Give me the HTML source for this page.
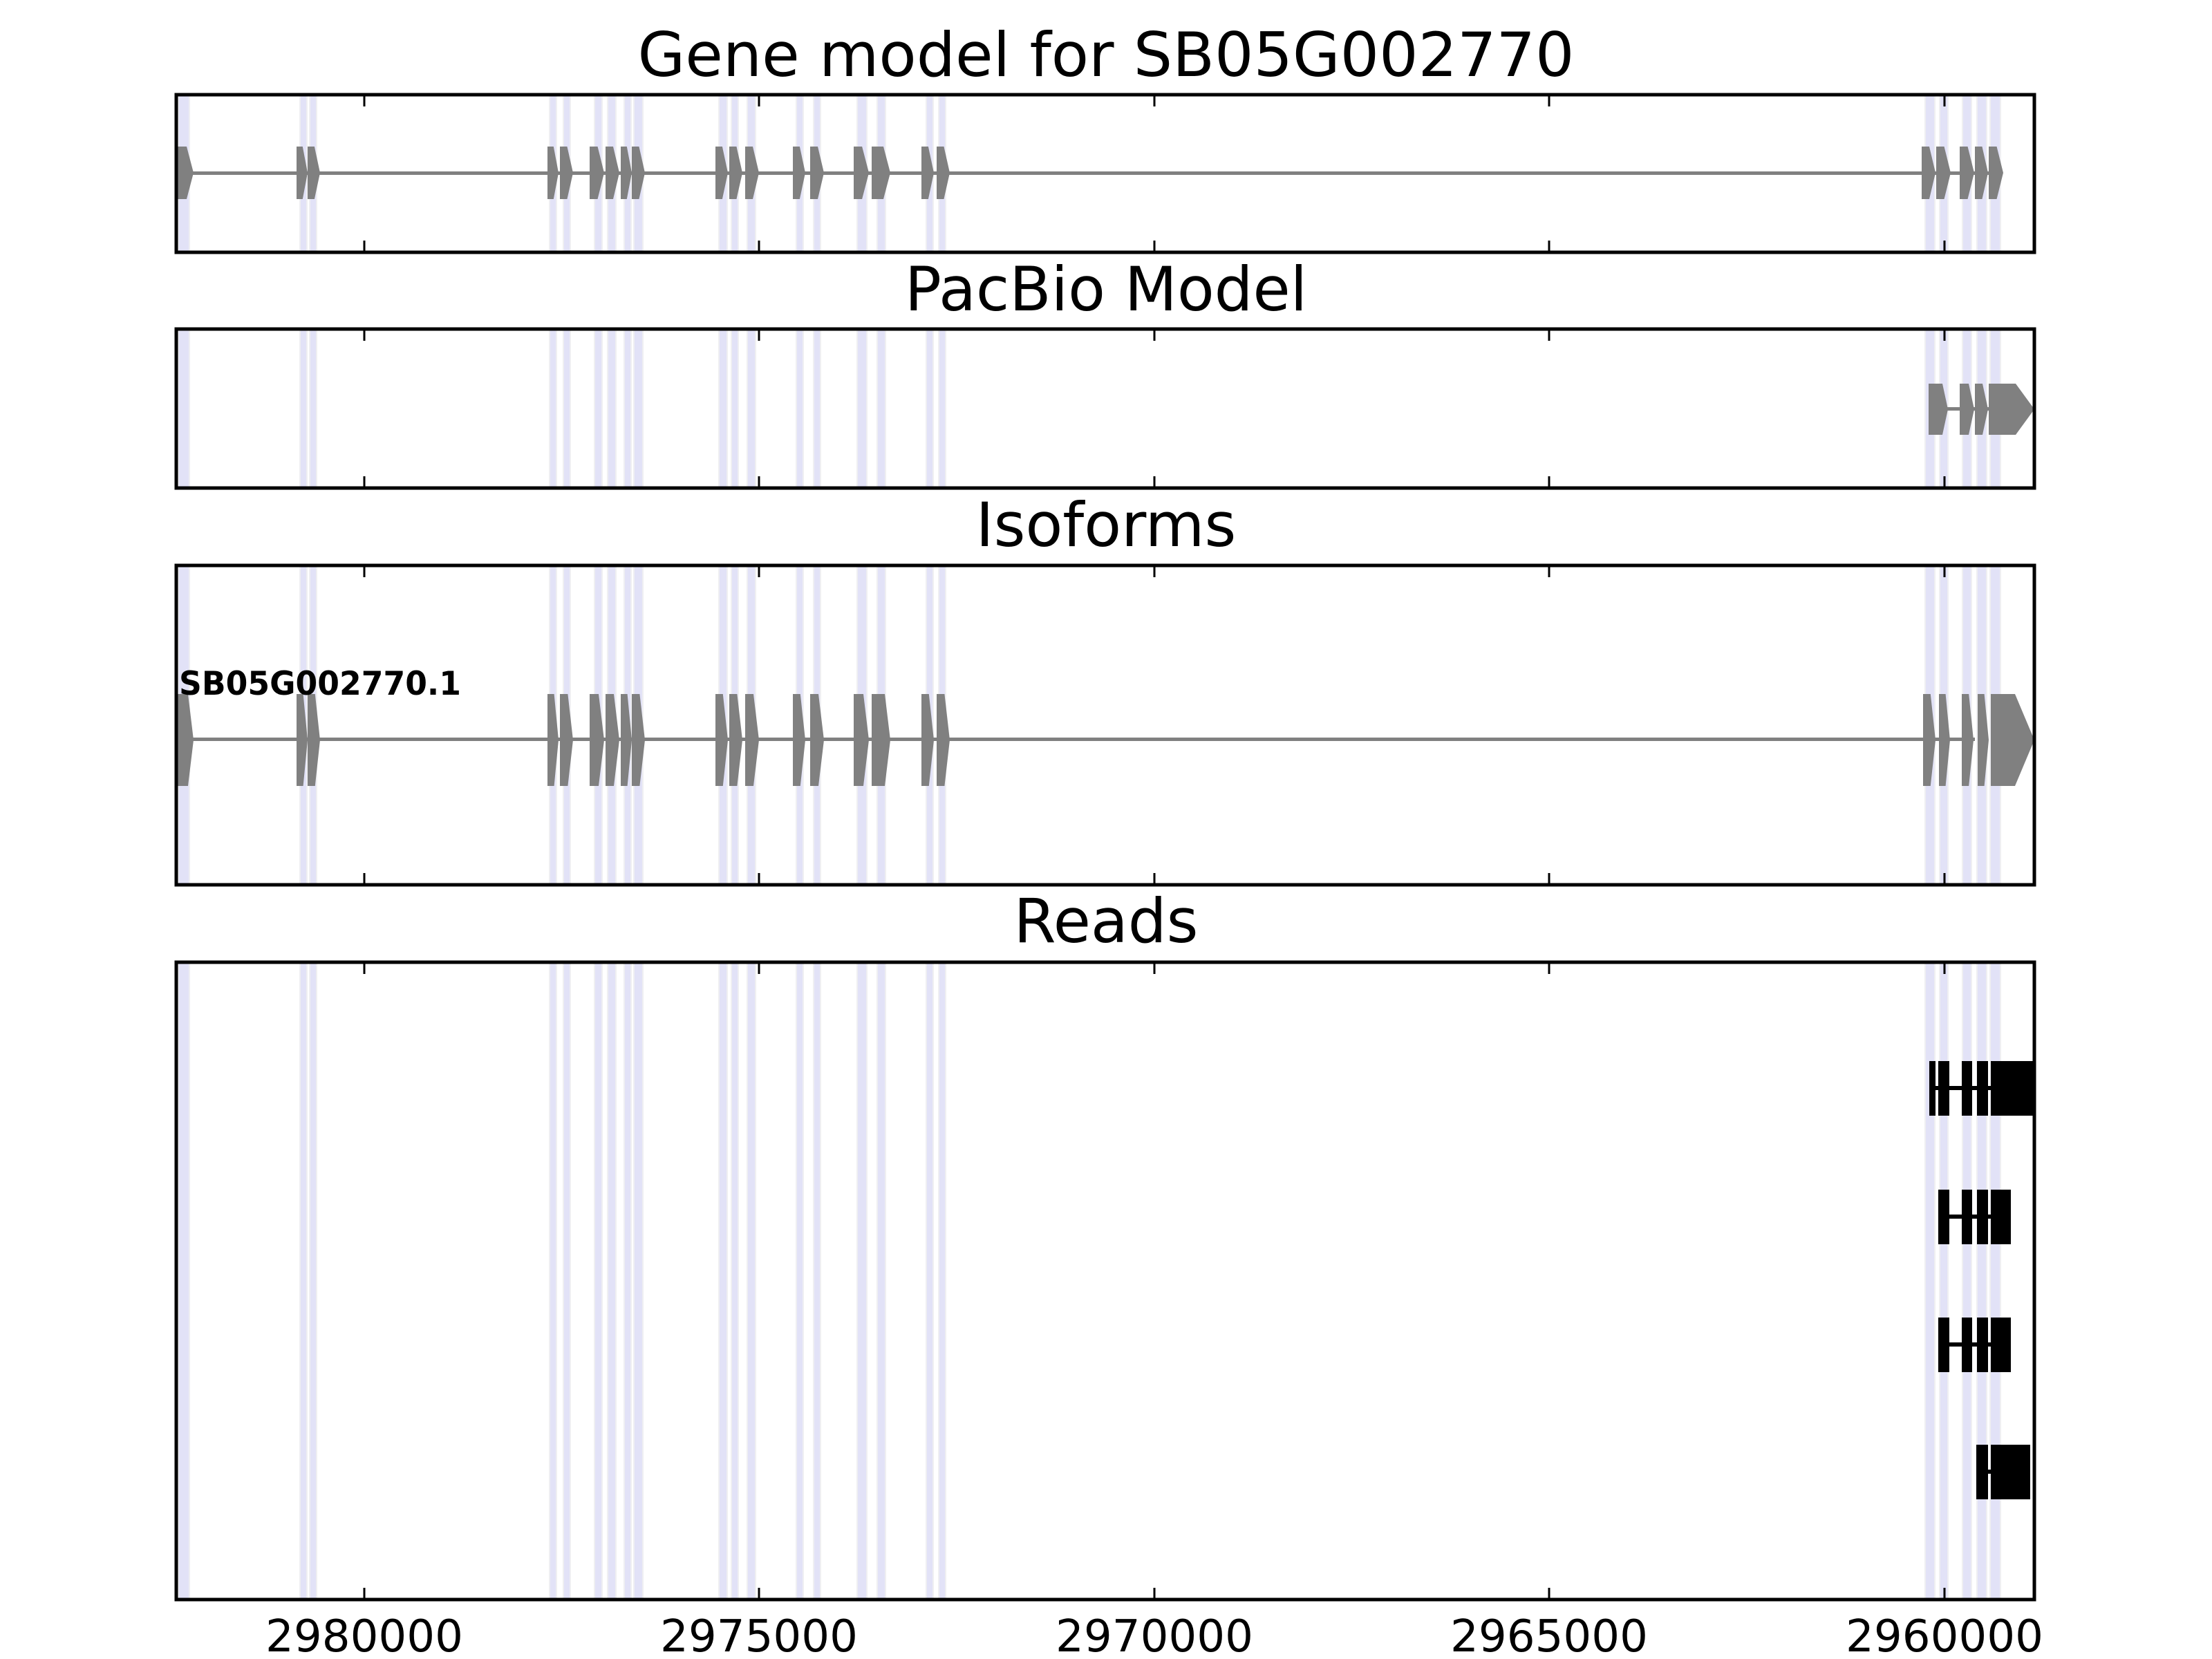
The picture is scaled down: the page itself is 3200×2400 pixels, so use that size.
<!DOCTYPE html>
<html><head><meta charset="utf-8"><style>html,body{margin:0;padding:0;background:#fff}svg{display:block}</style></head>
<body>
<svg id="s" width="3200" height="2400" xmlns="http://www.w3.org/2000/svg" font-family="DejaVu Sans, Liberation Sans, sans-serif">
<rect width="3200" height="2400" fill="#fff"/>
<text x="1600" y="110" font-size="88" text-anchor="middle" textLength="1355" lengthAdjust="spacingAndGlyphs">Gene model for SB05G002770</text>
<text x="1600" y="449" font-size="88" text-anchor="middle">PacBio Model</text>
<text x="1600" y="790" font-size="88" text-anchor="middle">Isoforms</text>
<text x="1600" y="1363" font-size="88" text-anchor="middle">Reads</text>
<g id="g"></g>
<text x="259" y="1005" font-size="47" font-weight="bold" textLength="408" lengthAdjust="spacingAndGlyphs">SB05G002770.1</text>
<g font-size="64" text-anchor="middle">
<text x="527" y="2389" textLength="286" lengthAdjust="spacingAndGlyphs">2980000</text>
<text x="1098" y="2389" textLength="286" lengthAdjust="spacingAndGlyphs">2975000</text>
<text x="1670" y="2389" textLength="286" lengthAdjust="spacingAndGlyphs">2970000</text>
<text x="2241" y="2389" textLength="286" lengthAdjust="spacingAndGlyphs">2965000</text>
<text x="2813" y="2389" textLength="286" lengthAdjust="spacingAndGlyphs">2960000</text>
</g>
</svg>
<script>
var g=document.getElementById('g'),h='';
var L=255,R=2943;
var panels=[[137,365],[476,706],[818,1280],[1392,2314]];
var bands=[[259,273],[435,443],[449,457],[796,804],[816,824],[861,870],[880,890],[904,912],[918,929],[1041,1051],[1059,1067],[1082,1092],[1153,1161],[1178,1186],[1241,1253],[1270,1280],[1341,1349],[1359,1367],[2786,2798],[2807,2817],[2840,2851],[2861,2873],[2880,2893]];
var ticks=[527,1098,1670,2241,2813];
function ex(x0,x1,t,b,tw,col){var m=(t+b)/2;var d=tw||Math.min(10,(x1-x0)*0.45);
return '<polygon points="'+x0+','+t+' '+(x1-d)+','+t+' '+x1+','+m+' '+(x1-d)+','+b+' '+x0+','+b+'" fill="'+(col||'#808080')+'"/>';}
panels.forEach(function(p){
 bands.forEach(function(b){h+='<rect x="'+(b[0]-2)+'" y="'+p[0]+'" width="'+(b[1]-b[0]+4)+'" height="'+(p[1]-p[0])+'" fill="#efeff2"/><rect x="'+b[0]+'" y="'+p[0]+'" width="'+(b[1]-b[0])+'" height="'+(p[1]-p[0])+'" fill="#e2e2f7"/>';});
});
var gm=[[257,280],[429,445],[445,463],[792,808],[810,829],[853,874],[876,896],[898,914],[914,933],[1035,1053],[1055,1074],[1078,1098],[1147,1165],[1172,1192],[1235,1257],[1261,1288],[1333,1351],[1355,1374],[2780,2800],[2801,2822],[2835,2856],[2857,2876],[2877,2898]];
h+='<rect x="257" y="248" width="2630" height="5" fill="#808080"/>';
gm.forEach(function(e){h+=ex(e[0],e[1],212,288);});
h+='<rect x="2790" y="589" width="100" height="5" fill="#808080"/>';
h+=ex(2790,2818,555,629,8)+ex(2835,2856,555,629,8)+ex(2857,2876,555,629,8)+ex(2877,2943,555,629,27);
h+='<rect x="257" y="1067" width="2600" height="5" fill="#808080"/>';
var iso=gm.slice(0,18).concat([[2782,2800],[2805,2821],[2838,2855],[2861,2877]]);
iso.forEach(function(e){h+=ex(e[0],e[1],1004,1137,Math.min(8,(e[1]-e[0])*0.4));});
h+=ex(2880,2943,1004,1137,28);
function read(y,blocks){var t=y,b=y+79,m=y+39;h+='<rect x="'+blocks[0][0]+'" y="'+(m-3)+'" width="'+(blocks[blocks.length-1][1]-blocks[0][0])+'" height="6" fill="#000"/>';
blocks.forEach(function(k){h+='<rect x="'+k[0]+'" y="'+t+'" width="'+(k[1]-k[0])+'" height="'+(b-t)+'" fill="#000"/>';});}
read(1535,[[2791,2800],[2804,2820],[2838,2853],[2860,2876],[2880,2943]]);
read(1721,[[2804,2820],[2838,2853],[2860,2876],[2880,2909]]);
read(1906,[[2804,2820],[2838,2853],[2860,2876],[2880,2909]]);
read(2090,[[2859,2876],[2880,2937]]);
panels.forEach(function(p){
 ticks.forEach(function(x){h+='<rect x="'+(x-1.5)+'" y="'+p[0]+'" width="3" height="17" fill="#000"/><rect x="'+(x-1.5)+'" y="'+(p[1]-17)+'" width="3" height="17" fill="#000"/>';});
 h+='<rect x="'+L+'" y="'+p[0]+'" width="'+(R-L)+'" height="'+(p[1]-p[0])+'" fill="none" stroke="#000" stroke-width="5"/>';
});
g.innerHTML=h;
</script>
</body></html>
